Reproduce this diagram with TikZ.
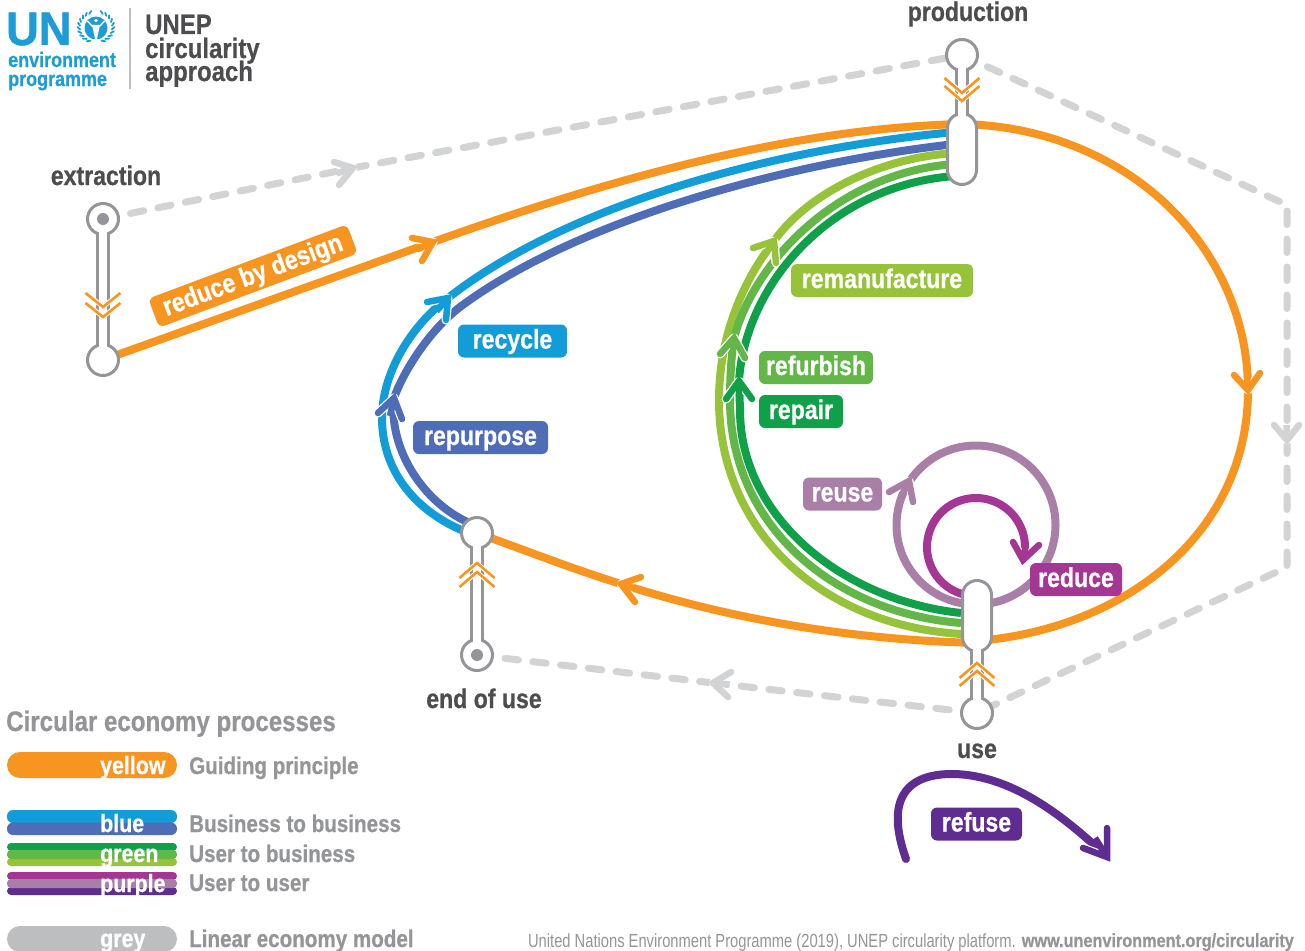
\documentclass[tikz,border=0pt]{standalone}
\usepackage{fontspec}
\usetikzlibrary{shapes.misc,calc}
\setmainfont{Liberation Sans}
\newfontfamily\cond[FakeStretch=0.855,BoldFeatures={FakeBold=0.6}]{Liberation Sans}
\newfontfamily\condreg[FakeStretch=0.775]{Liberation Sans}
\newfontfamily\unfont[FakeStretch=0.96,BoldFeatures={FakeBold=1.0}]{Liberation Sans}
\definecolor{cOrange}{HTML}{F89520}
\definecolor{cBlue}{HTML}{129CD8}
\definecolor{cSlate}{HTML}{4F6DB6}
\definecolor{cLime}{HTML}{97C33B}
\definecolor{cLeaf}{HTML}{63B648}
\definecolor{cGreen}{HTML}{10A04A}
\definecolor{cMagenta}{HTML}{A43694}
\definecolor{cMauve}{HTML}{A97FA7}
\definecolor{cViolet}{HTML}{5F2C91}
\definecolor{cDash}{HTML}{D1D3D4}
\definecolor{cBar}{HTML}{BCBEC0}
\definecolor{cGrey}{HTML}{939598}
\definecolor{cDark}{HTML}{4D4D4F}
\definecolor{cUN}{HTML}{1D9CD8}
\tikzset{
  flow/.style={line width=8pt,line cap=butt},
  linear/.style={line width=7pt,color=cDash,line cap=round,line join=round,dash pattern=on 13.5pt off 14.5pt},
  endcircle/.style={circle,draw=cGrey,line width=3pt,fill=white,minimum size=31pt,inner sep=0pt},
  capsule/.style={rounded rectangle,rounded rectangle arc length=180,draw=cGrey,line width=3pt,fill=white,minimum width=71pt,minimum height=29pt,inner sep=0pt,rotate=90},
  stem/.style={rectangle,draw=cGrey,line width=3pt,fill=white,inner sep=0pt,minimum width=11pt},
  neck/.style={rectangle,fill=white,inner sep=0pt,minimum width=8pt},
  innerdot/.style={circle,fill=cGrey,minimum size=12pt,inner sep=0pt},
  tag/.style={rectangle,rounded corners=6pt,text=white,inner sep=0pt,text height=17pt,text depth=2pt,
    font=\cond\bfseries\fontsize{27}{27}\selectfont,minimum height=33pt},
  stage/.style={text=cDark,inner sep=0pt,anchor=base,font=\cond\bfseries\fontsize{27}{27}\selectfont},
  legtitle/.style={text=cGrey,inner sep=0pt,anchor=base west,font=\cond\bfseries\fontsize{28.2}{28.2}\selectfont},
  legtext/.style={text=cGrey,inner sep=0pt,anchor=base west,font=\cond\bfseries\fontsize{24.1}{24.1}\selectfont},
  legbar/.style={text=white,inner sep=0pt,anchor=base west,font=\cond\bfseries\fontsize{25}{25}\selectfont},
  logohead/.style={text=cDark,inner sep=0pt,anchor=base west,font=\cond\bfseries\fontsize{28}{28}\selectfont},
  logoblue/.style={text=cUN,inner sep=0pt,anchor=base west,font=\cond\bfseries\fontsize{21}{21}\selectfont},
}
% arrowhead: colour, tip, arm 1, arm 2, width
\newcommand{\headmark}[5]{%
  \draw[white,line width=#5+2.5pt,line cap=round,line join=round] #3 -- #2 -- #4;
  \draw[#1,line width=#5,line cap=butt] ($#3!0.5!#4$) -- #2;
  \draw[#1,line width=#5,line cap=round,line join=miter] #3 -- #2 -- #4;}
% double chevron on a stem: x, tip 1, tip 2, rise
\newcommand{\chevrons}[4]{%
  \foreach \t in {#2,#3}{%
    \draw[white,line width=4.5pt] (#1-17,\t+#4) -- (#1,\t) -- (#1+17,\t+#4);
    \draw[cOrange,line width=2.6pt] (#1-17.5,\t+#4) -- (#1,\t) -- (#1+17.5,\t+#4);}}
\begin{document}
\begin{tikzpicture}[x=1pt,y=-1pt]
\useasboundingbox (0,0) rectangle (1305,950);
\fill[white] (0,0) rectangle (1305,950);

% named junctions
\coordinate (exTopC) at (103,219);
\coordinate (exBotC) at (103,360);
\coordinate (prTopC) at (962,55);
\coordinate (prCapC) at (962,149);
\coordinate (usCapC) at (977,616);
\coordinate (usBotC) at (977,713);
\coordinate (eoTopC) at (477,533);
\coordinate (eoBotC) at (477,655);

% linear economy route
\coordinate (gA) at (353,168);
\coordinate (gB) at (1287,205);
\coordinate (gC) at (1287,440);
\coordinate (gD) at (1287,567);
\coordinate (gE) at (713,683);
\draw[linear] (exTopC) -- (gA);
\draw[linear] (gA) -- (prTopC);
\draw[linear] (prTopC) -- (gB) -- (gC);
\draw[linear] (gC) -- (gD) -- (usBotC);
\draw[linear] (usBotC) -- (gE);
\draw[linear] (gE) -- (eoBotC);
\headmark{cDash}{(gA)}{(334,162)}{(339,185)}{6.5pt}
\headmark{cDash}{(gC)}{(1274,425)}{(1299,425)}{6.5pt}
\headmark{cDash}{(gE)}{(731,672)}{(728,697)}{6.5pt}

% guiding principle
\coordinate (oA) at (433,242);
\coordinate (oB) at (1248,390);
\coordinate (oC) at (621,584);
\draw[flow,cOrange] (exBotC) -- (oA);
\draw[flow,cOrange] (oA) .. controls (620,175) and (800,128) .. (962,124);
\draw[flow,cOrange] (962,124) .. controls (1130,128) and (1248,250) .. (oB);
\draw[flow,cOrange] (oB) .. controls (1248,530) and (1130,628) .. (977,641);
\draw[flow,cOrange] (977,643) .. controls (860,640) and (740,622) .. (oC);
\draw[flow,cOrange] (oC) .. controls (570,568) and (530,552) .. (eoTopC);

% business to business
\coordinate (bA) at (448,298);
\coordinate (sA) at (394,398);
\coordinate (bS) at (466,532);
\coordinate (sS) at (472,524);
\draw[flow,cBlue] (bS) .. controls (412,510) and (382,468) .. (382,418)
   .. controls (382,372) and (412,325) .. (bA);
\draw[flow,cBlue] (bA) .. controls (560,210) and (760,150) .. (955,132);
\draw[flow,cSlate] (sS) .. controls (425,505) and (388,450) .. (sA);
\draw[flow,cSlate] (sA) .. controls (404,370) and (430,330) .. (460,307)
   .. controls (570,225) and (770,165) .. (955,144);

% user to business
\coordinate (lA) at (774,241);
\coordinate (fA) at (734,338);
\coordinate (rA) at (739,381);
\draw[flow,cLime] (961,634) .. controls (820,625) and (719,530) .. (719,400)
   .. controls (719,340) and (740,285) .. (lA);
\draw[flow,cLime] (lA) .. controls (805,197) and (875,158) .. (955,153);
\draw[flow,cLeaf] (961,623) .. controls (830,612) and (730,523) .. (730,400)
   .. controls (730,380) and (731,358) .. (fA);
\draw[flow,cLeaf] (fA) .. controls (755,260) and (840,172) .. (955,164);
\draw[flow,cGreen] (961,613) .. controls (840,600) and (740,515) .. (740,410) -- (rA);
\draw[flow,cGreen] (rA) .. controls (745,285) and (830,185) .. (955,176);

% user to user loops
\coordinate (mA) at (1023,560);
\coordinate (vA) at (909,481);
\draw[line width=8pt,cMauve] (976,525) circle[radius=79.5];
\draw[line width=8pt,cMagenta] plot[domain=85:375,samples=90] ({976+49*cos(\x)},{547+49*sin(\x)});

% refuse
\coordinate (rfA) at (906,859);
\coordinate (rfB) at (1107,857);
\draw[line width=8pt,cViolet,line cap=round] (rfA) .. controls (885,800) and (905,773) .. (955,774)
  .. controls (1010,776) and (1060,812) .. (rfB);

% arrowheads on flows
\headmark{cOrange}{(oA)}{(412,238)}{(422,261)}{6.5pt}
\headmark{cOrange}{(oB)}{(1234,375)}{(1260,373)}{6.5pt}
\headmark{cOrange}{(oC)}{(641,577)}{(635,602)}{6.5pt}
\headmark{cBlue}{(bA)}{(427,302)}{(446,320)}{6.5pt}
\headmark{cSlate}{(sA)}{(378,413)}{(402,419)}{6.5pt}
\headmark{cLime}{(lA)}{(753,248)}{(776,263)}{6.5pt}
\headmark{cLeaf}{(fA)}{(720,354)}{(745,358)}{6.5pt}
\headmark{cGreen}{(rA)}{(726,399)}{(752,399)}{6.5pt}
\headmark{cMagenta}{(mA)}{(1013,542)}{(1039,545)}{6.5pt}
\headmark{cMauve}{(vA)}{(889,492)}{(913,502)}{6.5pt}
\headmark{cViolet}{(rfB)}{(1083,848)}{(1107,828)}{6.5pt}

% terminals
\node[stem,minimum height=141pt] (exStem) at ($(exTopC)!0.5!(exBotC)$) {};
\node[stem,minimum height=94pt] (prStem) at ($(prTopC)!0.5!(prCapC)$) {};
\node[stem,minimum height=97pt] (usStem) at ($(usCapC)!0.5!(usBotC)$) {};
\node[stem,minimum height=122pt] (eoStem) at ($(eoTopC)!0.5!(eoBotC)$) {};
\node[endcircle] (exTop) at (exTopC) {};
\node[endcircle] (exBot) at (exBotC) {};
\node[endcircle] (prTop) at (prTopC) {};
\node[capsule] (prCap) at (prCapC) {};
\node[capsule] (usCap) at (usCapC) {};
\node[endcircle] (usBot) at (usBotC) {};
\node[endcircle] (eoTop) at (eoTopC) {};
\node[endcircle] (eoBot) at (eoBotC) {};
\node[neck,minimum height=141pt] (exNeck) at ($(exTopC)!0.5!(exBotC)$) {};
\node[neck,minimum height=94pt] (prNeck) at ($(prTopC)!0.5!(prCapC)$) {};
\node[neck,minimum height=97pt] (usNeck) at ($(usCapC)!0.5!(usBotC)$) {};
\node[neck,minimum height=122pt] (eoNeck) at ($(eoTopC)!0.5!(eoBotC)$) {};
\node[innerdot] (exDot) at (exTopC) {};
\node[innerdot] (eoDot) at (eoBotC) {};
\chevrons{103}{307}{317}{-14}
\chevrons{962}{93}{101}{-15}
\chevrons{977}{663}{671}{15}
\chevrons{477}{563}{572}{15}

% stage names
\node[stage] (tProd) at (968,21) {production};
\node[stage] (tExtr) at (106,185) {extraction};
\node[stage] (tEnd) at (484,708) {end of use};
\node[stage] (tUse) at (977,758) {use};

% process tags
\node[tag,fill=cOrange,rotate=20.5,minimum width=212pt,minimum height=31pt] (tDesign) at (253,276) {reduce by design};
\node[tag,fill=cBlue,minimum width=109pt] (tRecycle) at (512.5,341) {recycle};
\node[tag,fill=cSlate,minimum width=135pt] (tRepurpose) at (480.5,437.5) {repurpose};
\node[tag,fill=cLime,minimum width=182pt] (tReman) at (882,280.5) {remanufacture};
\node[tag,fill=cLeaf,minimum width=114pt] (tRefurb) at (816,367.5) {refurbish};
\node[tag,fill=cGreen,minimum width=84pt] (tRepair) at (801,411.5) {repair};
\node[tag,fill=cMauve,minimum width=79pt] (tReuse) at (842.5,494) {reuse};
\node[tag,fill=cMagenta,minimum width=92pt] (tReduce) at (1076,579.5) {reduce};
\node[tag,fill=cViolet,minimum width=91pt] (tRefuse) at (976.5,824) {refuse};

% legend
\node[legtitle] (lgTitle) at (6,731) {Circular economy processes};
\fill[cOrange,rounded corners=13pt] (7,752) rectangle (177,778);
\fill[cBlue,rounded corners=6pt] (7,810) rectangle (177,823);
\fill[cSlate,rounded corners=6pt] (7,822.5) rectangle (177,835);
\fill[cGreen,rounded corners=4pt] (7,843) rectangle (177,851);
\fill[cLime,rounded corners=4pt] (7,858) rectangle (177,866);
\fill[cLeaf,rounded corners=4pt] (7,850) rectangle (177,859);
\fill[cMagenta,rounded corners=4pt] (7,872) rectangle (177,880);
\fill[cViolet,rounded corners=4pt] (7,887) rectangle (177,895);
\fill[cMauve,rounded corners=4pt] (7,879) rectangle (177,888);
\fill[cBar,rounded corners=13pt] (7,926) rectangle (177,952);
\node[legbar] (k1) at (100,774) {yellow};
\node[legbar] (k2) at (100,832) {blue};
\node[legbar] (k3) at (100,862) {green};
\node[legbar] (k4) at (100,892) {purple};
\node[legbar] (k5) at (100,947) {grey};
\node[legtext] (d1) at (189,774) {Guiding principle};
\node[legtext] (d2) at (189,832) {Business to business};
\node[legtext] (d3) at (189,862) {User to business};
\node[legtext] (d4) at (189,891) {User to user};
\node[legtext] (d5) at (189,947) {Linear economy model};

% footer
\node[text=cGrey,inner sep=0pt,anchor=base east] (foot) at (1294,947)
  {{\condreg\fontsize{19}{19}\selectfont United Nations Environment Programme (2019), UNEP circularity platform.}\hspace{6pt}{\cond\bfseries\fontsize{19}{19}\selectfont www.unenvironment.org/circularity}};

% logo
\node[text=cUN,inner sep=0pt,anchor=base west,font=\unfont\bfseries\fontsize{47}{47}\selectfont] (unMark) at (6,45) {UN};
\node[logoblue] (envA) at (8,67) {environment};
\node[logoblue] (envB) at (8,86) {programme};
\draw[cBar,line width=1.2pt] (130,8) -- (130,89);
\node[logohead] (h1) at (145,34) {UNEP};
\node[logohead] (h2) at (145,58) {circularity};
\node[logohead] (h3) at (145,81) {approach};
% emblem
\fill[cUN] (96,28) circle[radius=11.5];
\fill[white] (96,20.5) circle[radius=1.8];
\draw[white,line width=1.4pt] (87.5,21) -- (92,26) -- (100,26) -- (104.5,21);
\fill[white] (92,25) -- (100,25) -- (98,34) -- (96.8,40) -- (95.2,40) -- (94,34) -- cycle;
\foreach \a in {110,125,...,250}{
  \draw[cUN,line width=1.8pt,line cap=round] ({96+16*cos(\a)},{27+14.5*sin(\a)}) -- ({96+18.5*cos(\a+10)},{27+16.5*sin(\a+10)});
  \draw[cUN,line width=1.8pt,line cap=round] ({96-16*cos(\a)},{27+14.5*sin(\a)}) -- ({96-18.5*cos(\a+10)},{27+16.5*sin(\a+10)});
}
\end{tikzpicture}
\end{document}
